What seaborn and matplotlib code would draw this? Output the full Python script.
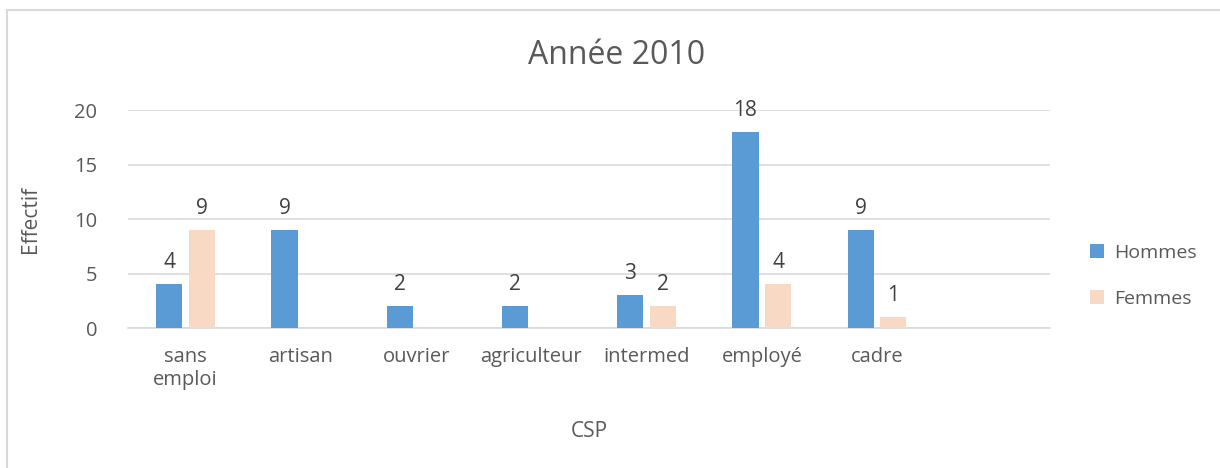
import matplotlib
matplotlib.use('Agg')
import matplotlib.pyplot as plt
from matplotlib.lines import Line2D
import pandas as pd
import seaborn as sns

# data
categories = ['sans\nemploi', 'artisan', 'ouvrier', 'agriculteur', 'intermed', 'employé', 'cadre']
hommes = [4, 9, 2, 2, 3, 18, 9]
femmes = [9, 0, 0, 0, 2, 4, 1]
y_ticks = [0, 5, 10, 15, 20]

df = pd.DataFrame({
    'CSP': categories * 2,
    'Effectif': hommes + femmes,
    'Sexe': ['Hommes'] * len(categories) + ['Femmes'] * len(categories),
})

sns.set_theme(style='white')
plt.rcParams['font.family'] = ['Open Sans', 'DejaVu Sans']
text_col = '#595959'
grid_col = '#D9D9D9'

fig = plt.figure(figsize=(12.2, 4.68), dpi=100)
ax = fig.add_axes([0.1049, 0.2991, 0.7557, 0.4658])

sns.barplot(data=df, x='CSP', y='Effectif', hue='Sexe',
            palette={'Hommes': '#5B9BD5', 'Femmes': '#F8D9C4'},
            saturation=1, linewidth=0, width=0.567, gap=0.2, ax=ax, zorder=3)

# value labels, skip zeros
for cont in ax.containers:
    labels = [f'{v:g}' if v > 0 else '' for v in cont.datavalues]
    ax.bar_label(cont, labels=labels, padding=8, fontsize=15, color='#404040')

ax.set_xlim(-0.5, 7.5)
ax.set_ylim(0, 20)
ax.set_yticks(y_ticks)
ax.yaxis.grid(True, color=grid_col, linewidth=1.2, zorder=0)
for s in ['top', 'right', 'left']:
    ax.spines[s].set_visible(False)
ax.spines['bottom'].set_color(grid_col)
ax.spines['bottom'].set_linewidth(1.2)
ax.tick_params(axis='both', length=0, labelsize=14.5, labelcolor=text_col)
ax.tick_params(axis='x', pad=14)
ax.tick_params(axis='y', pad=22)

ax.set_xlabel('CSP', fontsize=15, color=text_col, labelpad=22)
ax.set_ylabel('Effectif', fontsize=15, color=text_col, labelpad=24)

fig.text(0.505, 0.882, 'Année 2010', ha='center', va='center', fontsize=23, color=text_col)

leg = ax.legend(loc='center left', bbox_to_anchor=(1.025, 0.24), frameon=False,
                fontsize=14, handlelength=0.7, handleheight=0.7, labelspacing=1.45,
                handletextpad=0.5)
for t in leg.get_texts():
    t.set_color(text_col)

# chart frame, only top and left edges visible in the capture
fig.add_artist(Line2D([7 / 1220, 7 / 1220], [0, 1 - 10 / 468], color=grid_col, linewidth=1.5))
fig.add_artist(Line2D([7 / 1220, 1], [1 - 10 / 468, 1 - 10 / 468], color=grid_col, linewidth=1.5))

fig.savefig('out.png', dpi=100)
